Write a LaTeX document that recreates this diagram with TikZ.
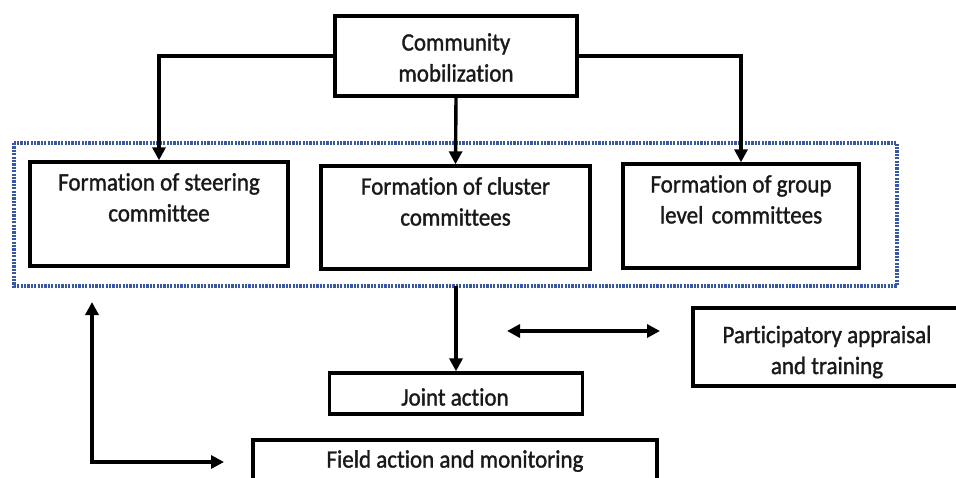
\documentclass[tikz,border=0pt]{standalone}
\usepackage{fontspec}
\setmainfont{Carlito}[Ligatures=NoCommon,FakeStretch=0.92,FakeBold=1.3]
\usetikzlibrary{arrows.meta}
\definecolor{dotblue}{RGB}{55,88,162}
\begin{document}
\begin{tikzpicture}[x=1pt,y=-1pt,
  box/.style={draw=black,line width=3.4pt,inner sep=0pt},
  txt/.style={font=\fontsize{25}{31}\selectfont,align=center,inner sep=0pt,text=black!90},
  conn/.style={line width=3.4pt,-{Triangle[length=13pt,width=13pt]}},
  dconn/.style={line width=3.4pt,{Triangle[length=13pt,width=13pt]}-{Triangle[length=13pt,width=13pt]}}]
\useasboundingbox (0,0) rectangle (956,477);
\begin{scope}
\clip (0,0) rectangle (956,477);
% dotted container
\draw[dotblue,line width=3.2pt,dash pattern=on 2.2pt off 1.2pt] (14,143) rectangle (897,286);
% top box
\node[box,minimum width=242pt,minimum height=80pt] (comm) at (456,56) {};
\node[txt] at (456,57.5) {Community\\mobilization};
% three committees
\node[box,minimum width=258pt,minimum height=104pt] (steer) at (159,214) {};
\node[txt,anchor=north] at (159,173) {Formation of steering\\committee};
\node[box,minimum width=269pt,minimum height=103pt] (clus) at (455.5,217.5) {};
\node[txt,anchor=north] at (455.5,177) {Formation of cluster\\committees};
\node[box,minimum width=236pt,minimum height=104pt] (grp) at (741,216) {};
\node[txt,anchor=north] at (741,175) {Formation of group\\level\,\,committees};
% lower boxes
\node[box,minimum width=253pt,minimum height=41pt] (joint) at (456,393.5) {};
\node[txt] at (455,397) {Joint action};
\node[box,minimum width=270pt,minimum height=78pt] (part) at (828,347) {};
\node[txt] at (827,352) {Participatory appraisal\\and training};
\node[box,minimum width=404pt,minimum height=80pt] (field) at (455,480) {};
\node[txt,anchor=north] at (455,450) {Field action and monitoring};
% connectors
\coordinate (dbot) at (456,286);
\draw[conn] (comm.west) -| (steer.north);
\draw[conn] (comm.south) -- (clus.north);
\draw[conn] (comm.east) -| (grp.north);
\draw[conn] (dbot) -- (joint.north);
\coordinate (da) at (507,331);
\coordinate (db) at (660,331);
\draw[dconn] (da) -- (db);
\coordinate (lc) at (92,462);
\coordinate (lt) at (92,302);
\coordinate (rt) at (224,462);
\draw[dconn] (lt) -- (lc) -- (rt);
\end{scope}
\end{tikzpicture}
\end{document}
